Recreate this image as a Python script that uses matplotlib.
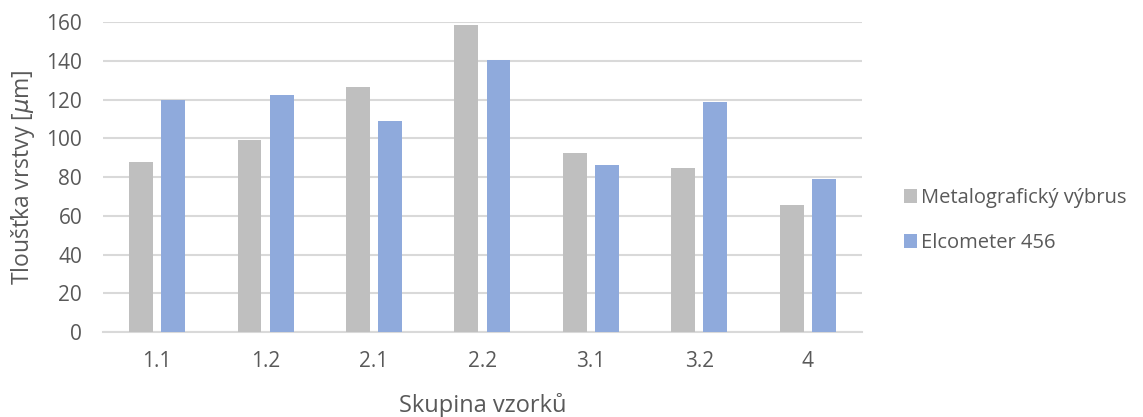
import matplotlib.pyplot as plt
import numpy as np

plt.rcParams['font.family'] = ['Open Sans', 'DejaVu Sans']

groups = ['1.1', '1.2', '2.1', '2.2', '3.1', '3.2', '4']
metalo = [87.7, 99.0, 126.5, 158.3, 92.5, 84.6, 65.6]
elcometer = [120.0, 122.2, 109.1, 140.3, 86.4, 118.8, 79.2]
series_names = ['Metalografický výbrus', 'Elcometer 456']

text_c = '#595959'
grid_c = '#D9D9D9'

fig = plt.figure(figsize=(11.43, 4.17), dpi=100)
ax = fig.add_axes([0.0901, 0.2038, 0.664, 0.743])

x = np.arange(len(groups))
w = 0.22
off = 0.148
ax.bar(x - off, metalo, w, color='#BFBFBF', label=series_names[0], zorder=3)
ax.bar(x + off, elcometer, w, color='#8FAADC', label=series_names[1], zorder=3)

ax.set_xlim(-0.5, len(groups) - 0.5)
ax.set_ylim(0, 160)
ax.set_yticks(range(0, 161, 20))
ax.set_xticks(x)
ax.set_xticklabels(groups)
ax.grid(axis='y', color=grid_c, linewidth=1.5, zorder=0)
for s in ['top', 'right', 'left']:
    ax.spines[s].set_visible(False)
ax.spines['bottom'].set_color(grid_c)
ax.spines['bottom'].set_linewidth(1.5)
ax.tick_params(length=0, colors=text_c, labelsize=15)
ax.tick_params(axis='x', pad=14)
ax.tick_params(axis='y', pad=15)

ax.set_ylabel(r'Tloušťka vrstvy [$\mu$m]', fontsize=16.5, color=text_c, labelpad=7)
ax.set_xlabel('Skupina vzorků', fontsize=17, color=text_c, labelpad=15)

# legend sits below the vertical middle, to the right of the plot
leg = ax.legend(loc='center left', bbox_to_anchor=(1.032, 0.36), frameon=False,
                fontsize=14.5, handlelength=0.65, handleheight=0.65,
                handletextpad=0.2, labelspacing=1.25, labelcolor=text_c)

fig.savefig('out.png', dpi=100)
